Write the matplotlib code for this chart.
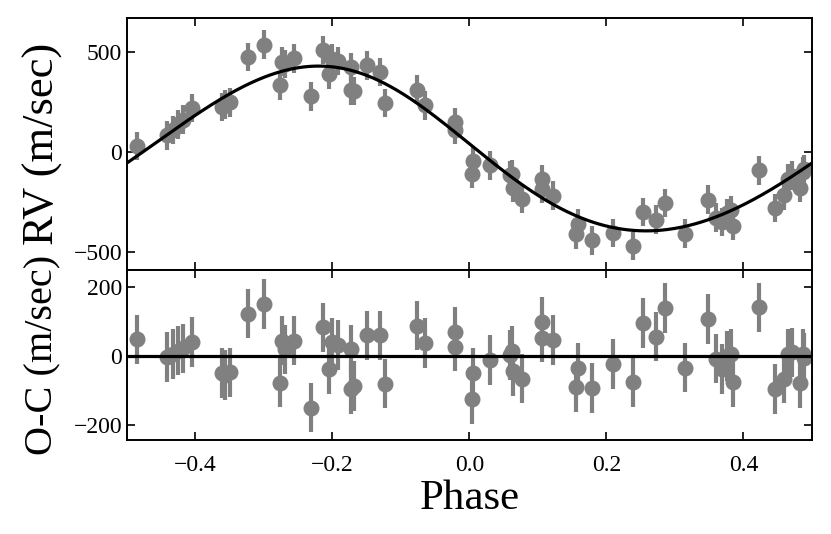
import numpy as np
import matplotlib
matplotlib.use("Agg")
import matplotlib.pyplot as plt

plt.rcParams['font.family'] = ['Liberation Serif', 'DejaVu Serif']
plt.rcParams['mathtext.fontset'] = 'stix'

# phase-folded data
phase = [-0.485, -0.441, -0.433, -0.425, -0.418, -0.405, -0.362, -0.357, -0.350,
         -0.323, -0.2995, -0.276, -0.274, -0.270, -0.2555, -0.2315, -0.2144,
         -0.2046, -0.200, -0.192, -0.173, -0.173, -0.168, -0.1494, -0.130,
         -0.123, -0.076, -0.0645, -0.0215, -0.0215, 0.0054, 0.003, 0.0298,
         0.059, 0.0625, 0.064, 0.077, 0.1055, 0.1055, 0.1226, 0.158, 0.156,
         0.1788, 0.2095, 0.2383, 0.2530, 0.2725, 0.285, 0.3145, 0.3487, 0.360,
         0.368, 0.376, 0.382, 0.385, 0.422, 0.4464, 0.4596, 0.4645, 0.4708,
         0.4825, 0.4865, 0.489]
rv = [30, 83, 110, 138, 162, 220, 225, 238, 248,
      475, 537, 333, 452, 440, 468, 278, 510,
      388, 467, 455, 425, 308, 305, 433, 400,
      245, 312, 233, 150, 112, -45, -108, -67,
      -117, -112, -180, -233, -135, -183, -218, -358, -412,
      -442, -405, -470, -300, -338, -255, -408, -238, -328,
      -350, -305, -290, -370, -92, -280, -217, -133, -118,
      -180, -98, -85]
oc = [48, -3, 5, 15, 22, 40, -50, -56, -48,
      123, 151, -78, 44, 19, 44, -151, 83,
      -39, 39, 31, 19, -97, -88, 60, 60,
      -81, 88, 37, 70, 27, -49, -125, -12,
      2, 15, -44, -66, 99, 53, 46, -34, -90,
      -93, -24, -76, 95, 56, 139, -34, 107, -8,
      -38, 0, 5, -76, 141, -97, -66, 5, 10,
      -80, 5, -5]
rv_err = 72  # all bars look the same length

# orbit fit parameters
K = 412.0
ecc = 0.049
omega = np.radians(45.0)
tp = -0.106
gamma = 3.3


def rv_model(ph):
    M = 2 * np.pi * (ph - tp)
    E = M.copy()
    for _ in range(30):
        E = E - (E - ecc * np.sin(E) - M) / (1 - ecc * np.cos(E))
    nu = 2 * np.arctan2(np.sqrt(1 + ecc) * np.sin(E / 2),
                        np.sqrt(1 - ecc) * np.cos(E / 2))
    return gamma + K * (np.cos(nu + omega) + ecc * np.cos(omega))


ph_fit = np.linspace(-0.5, 0.5, 600)

fig = plt.figure(figsize=(8.31, 5.34), dpi=100)
ax1 = fig.add_axes([0.1528, 0.4944, 0.8243, 0.4719])
ax2 = fig.add_axes([0.1528, 0.1760, 0.8243, 0.3184], sharex=ax1)

pt_color = '#808080'
for ax, y in ((ax1, rv), (ax2, oc)):
    ax.errorbar(phase, y, yerr=rv_err, fmt='o', color=pt_color, ms=10.5,
                elinewidth=3.0, capsize=0, zorder=2)

ax1.plot(ph_fit, rv_model(ph_fit), color='black', lw=2.3, zorder=3)
ax2.axhline(0, color='black', lw=2.3, zorder=3)

ax1.set_xlim(-0.5, 0.5)
ax1.set_ylim(-590, 670)
ax2.set_ylim(-245, 250)
ax1.set_yticks([-500, 0, 500])
ax2.set_yticks([-200, 0, 200])
ax2.set_xticks([-0.4, -0.2, 0.0, 0.2, 0.4])

for ax in (ax1, ax2):
    ax.tick_params(direction='in', top=True, right=True, length=6, width=1.2,
                   labelsize=17)
    for sp in ax.spines.values():
        sp.set_linewidth(1.4)
ax2.tick_params(axis='x', pad=11)
plt.setp(ax1.get_xticklabels(), visible=False)

ax1.set_ylabel('RV (m/sec)', fontsize=32)
ax2.set_ylabel('O-C (m/sec)', fontsize=29)
ax1.yaxis.set_label_coords(-0.093, 0.5)
ax2.yaxis.set_label_coords(-0.095, 0.5)
ax2.set_xlabel('Phase', fontsize=31, labelpad=2)

fig.savefig('out.png', dpi=100)
